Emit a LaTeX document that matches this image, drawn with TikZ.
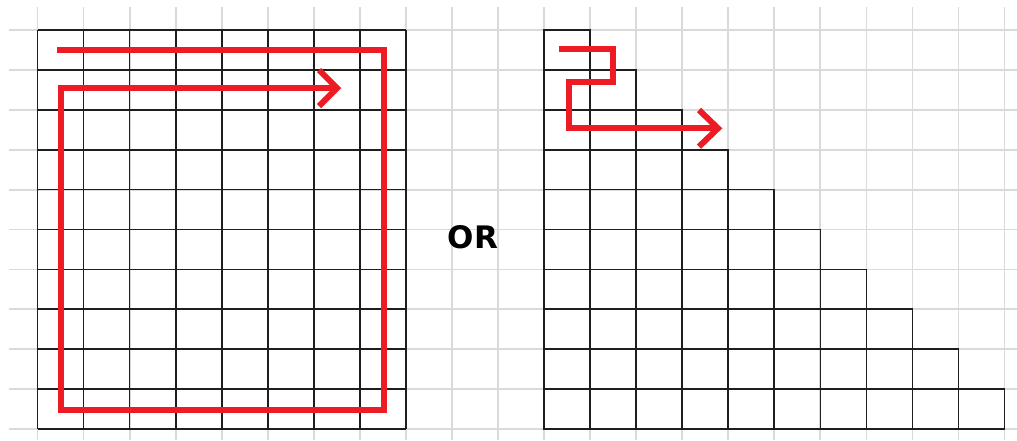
\documentclass[tikz,border=0pt]{standalone}
\usepackage{fontspec}
\newfontfamily\orfont{DejaVu Sans}
\definecolor{paintred}{RGB}{237,28,36}
\definecolor{gridgray}{RGB}{218,218,218}
\definecolor{inkblack}{RGB}{30,30,30}
\tikzset{
  graygrid/.style={draw=gridgray, line width=1.8pt},
  blackline/.style={draw=inkblack, line width=1.7pt},
  redpath/.style={draw=paintred, line width=6pt, line join=miter, line cap=butt},
}
\begin{document}
\begin{tikzpicture}[x=1pt,y=-1pt]
\useasboundingbox[fill=white] (0,0) rectangle (1017,440);
\def\gx{46.05}
\def\gy{39.9}
% light background grid
\foreach \k in {0,...,21}
  \draw[graygrid] ({37.5+\k*\gx},7) -- ({37.5+\k*\gx},440);
\foreach \k in {0,...,10}
  \draw[graygrid] (9,{30+\k*\gy}) -- (1017,{30+\k*\gy});
% left square grid: 8 columns x 10 rows
\foreach \k in {0,...,8}
  \draw[blackline] ({37.5+\k*\gx},30) -- ({37.5+\k*\gx},{30+10*\gy});
\foreach \k in {0,...,10}
  \draw[blackline] (37.5,{30+\k*\gy}) -- ({37.5+8*\gx},{30+\k*\gy});
% right staircase
\foreach \r in {0,...,9}
  \foreach \c in {0,...,\r}
    \draw[blackline] ({37.5+(11+\c)*\gx},{30+\r*\gy}) rectangle ++(\gx,\gy);
% red spiral path (left)
\draw[redpath] (57,50) -- (384,50) -- (384,409.5) -- (60.7,409.5) -- (60.7,88) -- (337,88);
\draw[redpath] (319,70) -- (337,88) -- (319,106);
% red zigzag path (right)
\draw[redpath] (559,48.5) -- (612.7,48.5) -- (612.7,82) -- (569,82) -- (569,128.3) -- (718,128.3);
\draw[redpath] (699,110) -- (718,128.3) -- (699,146.6);
% OR label
\node[inner sep=0pt, font=\orfont\bfseries\fontsize{31}{31}\selectfont] (orlabel) at (473,237.5) {OR};
\end{tikzpicture}
\end{document}
